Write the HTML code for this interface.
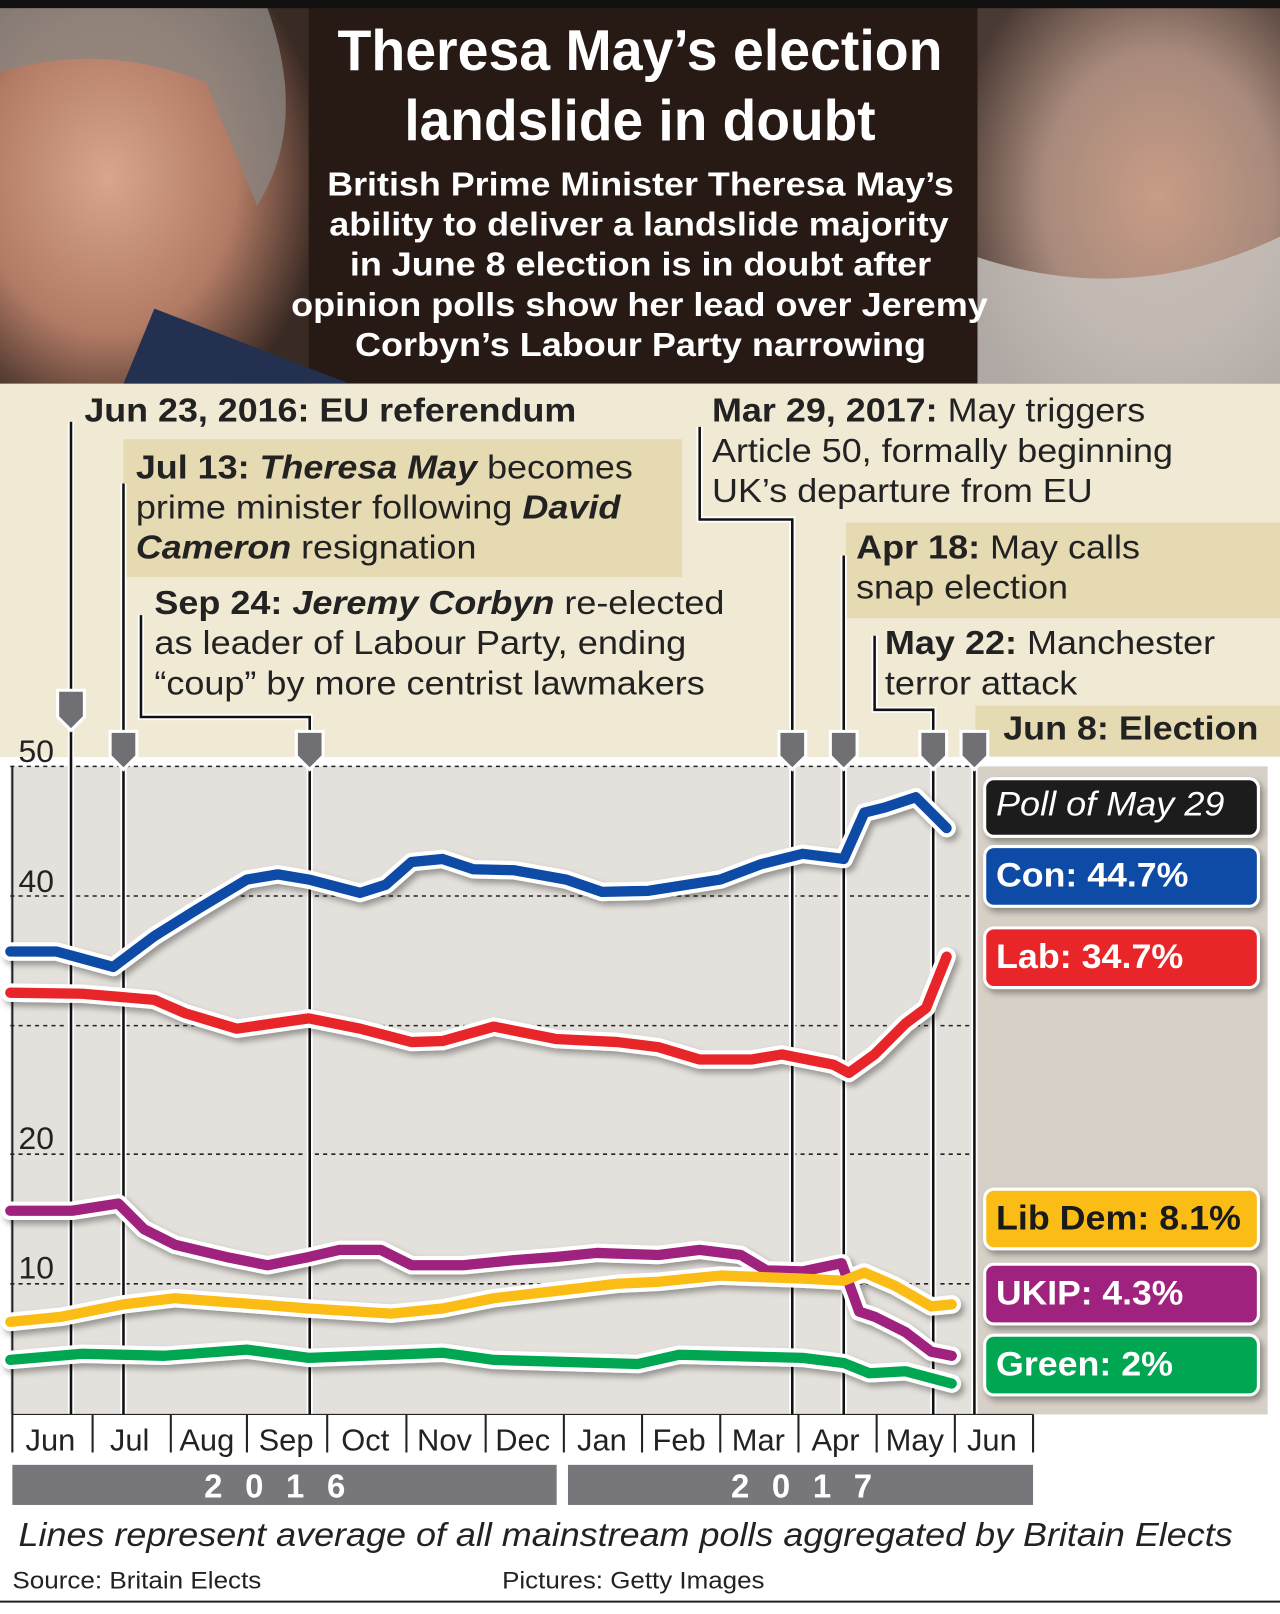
<!DOCTYPE html>
<html><head><meta charset="utf-8"><style>
html,body{margin:0;padding:0;background:#fff}
svg{display:block}
text{font-family:"Liberation Sans",sans-serif}
</style></head><body>
<svg width="1280" height="1614" viewBox="0 0 1244 1569" preserveAspectRatio="none" xmlns="http://www.w3.org/2000/svg">
<defs>
<radialGradient id="lf" cx="0.35" cy="0.45" r="0.7"><stop offset="0" stop-color="#d9a58c"/><stop offset="0.6" stop-color="#b07a64"/><stop offset="1" stop-color="#3a2a24"/></radialGradient>
<radialGradient id="rf" cx="0.6" cy="0.5" r="0.7"><stop offset="0" stop-color="#c99c86"/><stop offset="0.55" stop-color="#a88a7c"/><stop offset="1" stop-color="#4a3a34"/></radialGradient>
<filter id="sh"><feDropShadow dx="3" dy="4" stdDeviation="3" flood-opacity="0.35"/></filter>
</defs>
<rect x="0" y="0" width="1244" height="373" fill="#271a15"/>
<rect x="0" y="0" width="1244" height="8" fill="#111"/>
<rect x="0" y="8" width="300" height="365" fill="url(#lf)"/>
<path d="M0 8 L260 8 Q300 120 250 200 L200 80 Q100 40 0 70Z" fill="#8a8580" opacity="0.8"/>
<path d="M150 300 L340 373 L120 373Z" fill="#233050"/>
<rect x="950" y="8" width="294" height="365" fill="url(#rf)"/>
<path d="M950 250 Q1100 300 1244 230 L1244 373 L950 373Z" fill="#c8c4c0" opacity="0.8"/>
<g fill="#fff" font-size="56" font-weight="bold">
<text x="328" y="68" textLength="588" lengthAdjust="spacingAndGlyphs">Theresa May’s election</text>
<text x="393" y="136" textLength="458" lengthAdjust="spacingAndGlyphs">landslide in doubt</text>
</g>
<g fill="#fff" font-size="32" font-weight="bold">
<text x="318" y="190" textLength="609" lengthAdjust="spacingAndGlyphs">British Prime Minister Theresa May’s</text>
<text x="320" y="229" textLength="602" lengthAdjust="spacingAndGlyphs">ability to deliver a landslide majority</text>
<text x="340" y="268" textLength="565" lengthAdjust="spacingAndGlyphs">in June 8 election is in doubt after</text>
<text x="283" y="307" textLength="677" lengthAdjust="spacingAndGlyphs">opinion polls show her lead over Jeremy</text>
<text x="345" y="346" textLength="555" lengthAdjust="spacingAndGlyphs">Corbyn’s Labour Party narrowing</text>
</g>
<rect x="0" y="373" width="1244" height="363" fill="#f0e9d4"/>
<rect x="120" y="427" width="543" height="134" fill="#e6dab3"/>
<rect x="822" y="508" width="422" height="93" fill="#e6dab3"/>
<rect x="948" y="686" width="296" height="49" fill="#e6dab3"/>
<rect x="10" y="745" width="935" height="630" fill="#e4e1dc"/>
<rect x="950" y="745" width="282" height="630" fill="#d6d0c7"/>
<g stroke="#222" stroke-width="1.5" stroke-dasharray="4 4">
<line x1="10" y1="745" x2="945" y2="745"/><line x1="10" y1="871" x2="945" y2="871"/>
<line x1="10" y1="997" x2="945" y2="997"/><line x1="10" y1="1122" x2="945" y2="1122"/>
<line x1="10" y1="1248" x2="945" y2="1248"/>
</g>
<line x1="12" y1="745" x2="12" y2="1375" stroke="#222" stroke-width="2"/>
<g font-size="31" fill="#222"><text x="18" y="741">50</text><text x="18" y="867">40</text><text x="18" y="1117">20</text><text x="18" y="1243">10</text></g>
<g fill="none" stroke="#fff" stroke-width="6">
<path d="M69 410 V1375"/><path d="M120 470 V1375"/><path d="M137 598 V697 H301 V1375"/>
<path d="M680 415 V505 H770 V1375"/><path d="M820 540 V1375"/><path d="M850 618 V690 H907 V1375"/><path d="M947 715 V1375"/>
</g>
<g fill="none" stroke="#111" stroke-width="2.5">
<path d="M69 410 V1375"/><path d="M120 470 V1375"/><path d="M137 598 V697 H301 V1375"/>
<path d="M680 415 V505 H770 V1375"/><path d="M820 540 V1375"/><path d="M850 618 V690 H907 V1375"/><path d="M947 715 V1375"/>
</g>
<g fill="#707074" stroke="#fff" stroke-width="3">
<path d="M56 671 H82 V697 L69 710 L56 697Z"/>
<path d="M107 711 H133 V735 L120 748 L107 735Z"/>
<path d="M288 711 H314 V735 L301 748 L288 735Z"/>
<path d="M757 711 H783 V735 L770 748 L757 735Z"/>
<path d="M807 711 H833 V735 L820 748 L807 735Z"/>
<path d="M894 711 H920 V735 L907 748 L894 735Z"/>
<path d="M934 711 H960 V735 L947 748 L934 735Z"/>
</g>
<g font-size="32" fill="#222">
<text x="82" y="410" textLength="478" lengthAdjust="spacingAndGlyphs" font-weight="bold">Jun 23, 2016: EU referendum</text>
<text x="132" y="465" textLength="483" lengthAdjust="spacingAndGlyphs"><tspan font-weight="bold">Jul 13: </tspan><tspan font-weight="bold" font-style="italic">Theresa May</tspan> becomes</text>
<text x="132" y="504" textLength="471" lengthAdjust="spacingAndGlyphs">prime minister following <tspan font-weight="bold" font-style="italic">David</tspan></text>
<text x="132" y="543" textLength="331" lengthAdjust="spacingAndGlyphs"><tspan font-weight="bold" font-style="italic">Cameron</tspan> resignation</text>
<text x="150" y="597" textLength="554" lengthAdjust="spacingAndGlyphs"><tspan font-weight="bold">Sep 24: </tspan><tspan font-weight="bold" font-style="italic">Jeremy Corbyn</tspan> re-elected</text>
<text x="150" y="636" textLength="517" lengthAdjust="spacingAndGlyphs">as leader of Labour Party, ending</text>
<text x="150" y="675" textLength="535" lengthAdjust="spacingAndGlyphs">“coup” by more centrist lawmakers</text>
<text x="692" y="410" textLength="421" lengthAdjust="spacingAndGlyphs"><tspan font-weight="bold">Mar 29, 2017:</tspan> May triggers</text>
<text x="692" y="449" textLength="448" lengthAdjust="spacingAndGlyphs">Article 50, formally beginning</text>
<text x="692" y="488" textLength="370" lengthAdjust="spacingAndGlyphs">UK’s departure from EU</text>
<text x="832" y="543" textLength="276" lengthAdjust="spacingAndGlyphs"><tspan font-weight="bold">Apr 18:</tspan> May calls</text>
<text x="832" y="582" textLength="206" lengthAdjust="spacingAndGlyphs">snap election</text>
<text x="860" y="636" textLength="321" lengthAdjust="spacingAndGlyphs"><tspan font-weight="bold">May 22:</tspan> Manchester</text>
<text x="860" y="675" textLength="187" lengthAdjust="spacingAndGlyphs">terror attack</text>
<text x="975" y="719" font-weight="bold" textLength="248" lengthAdjust="spacingAndGlyphs">Jun 8: Election</text>
</g>
<g fill="none" stroke-linecap="round" stroke-linejoin="round" filter="url(#sh)">
<g stroke="#fff" stroke-width="18">
<polyline points="10,925 55,925 110,940 150,910 190,885 240,855 270,850 300,855 350,868 375,860 400,838 430,835 460,845 500,846 550,855 585,867 630,866 700,855 740,840 780,830 820,835 840,790 860,785 890,775 905,790 920,805"/>
<polyline points="10,965 80,966 150,972 180,985 230,1000 300,990 350,1000 400,1013 430,1012 480,998 540,1010 600,1013 640,1018 680,1030 730,1030 760,1025 810,1035 825,1043 850,1025 880,995 900,980 920,930"/>
<polyline points="10,1177 70,1177 115,1170 140,1195 170,1210 220,1222 260,1230 300,1222 330,1215 370,1215 400,1230 450,1230 500,1225 540,1222 580,1218 640,1220 680,1215 720,1220 745,1235 780,1236 818,1228 835,1275 850,1280 880,1295 905,1314 925,1318"/>
<polyline points="10,1285 60,1280 120,1268 170,1262 250,1268 300,1272 380,1277 430,1272 480,1262 540,1255 600,1248 640,1246 700,1240 780,1243 820,1245 840,1237 870,1250 905,1270 925,1268"/>
<polyline points="10,1322 80,1316 160,1318 240,1312 300,1320 430,1315 480,1322 620,1326 660,1317 780,1320 820,1325 845,1335 880,1333 925,1345"/>
</g>
<polyline stroke="#0d4ba6" stroke-width="10" points="10,925 55,925 110,940 150,910 190,885 240,855 270,850 300,855 350,868 375,860 400,838 430,835 460,845 500,846 550,855 585,867 630,866 700,855 740,840 780,830 820,835 840,790 860,785 890,775 905,790 920,805"/>
<polyline stroke="#e8262b" stroke-width="10" points="10,965 80,966 150,972 180,985 230,1000 300,990 350,1000 400,1013 430,1012 480,998 540,1010 600,1013 640,1018 680,1030 730,1030 760,1025 810,1035 825,1043 850,1025 880,995 900,980 920,930"/>
<polyline stroke="#a0237f" stroke-width="10" points="10,1177 70,1177 115,1170 140,1195 170,1210 220,1222 260,1230 300,1222 330,1215 370,1215 400,1230 450,1230 500,1225 540,1222 580,1218 640,1220 680,1215 720,1220 745,1235 780,1236 818,1228 835,1275 850,1280 880,1295 905,1314 925,1318"/>
<polyline stroke="#fbbc18" stroke-width="10" points="10,1285 60,1280 120,1268 170,1262 250,1268 300,1272 380,1277 430,1272 480,1262 540,1255 600,1248 640,1246 700,1240 780,1243 820,1245 840,1237 870,1250 905,1270 925,1268"/>
<polyline stroke="#05a651" stroke-width="10" points="10,1322 80,1316 160,1318 240,1312 300,1320 430,1315 480,1322 620,1326 660,1317 780,1320 820,1325 845,1335 880,1333 925,1345"/>
</g>
<g stroke="#fff" stroke-width="3" filter="url(#sh)">
<rect x="957" y="757" width="266" height="56" rx="9" fill="#1e1a1a"/>
<rect x="957" y="823" width="266" height="58" rx="9" fill="#0d4ba6"/>
<rect x="957" y="902" width="266" height="58" rx="9" fill="#e8262b"/>
<rect x="957" y="1156" width="266" height="58" rx="9" fill="#fbbc18"/>
<rect x="957" y="1229" width="266" height="58" rx="9" fill="#a0237f"/>
<rect x="957" y="1298" width="266" height="58" rx="9" fill="#05a651"/>
</g>
<g font-size="33" fill="#fff" font-weight="bold">
<text x="968" y="793" font-weight="normal" font-style="italic" textLength="222" lengthAdjust="spacingAndGlyphs">Poll of May 29</text>
<text x="968" y="862" textLength="187" lengthAdjust="spacingAndGlyphs">Con: 44.7%</text>
<text x="968" y="941" textLength="182" lengthAdjust="spacingAndGlyphs">Lab: 34.7%</text>
<text x="968" y="1195" fill="#1a1a1a" textLength="238" lengthAdjust="spacingAndGlyphs">Lib Dem: 8.1%</text>
<text x="968" y="1268" textLength="182" lengthAdjust="spacingAndGlyphs">UKIP: 4.3%</text>
<text x="968" y="1337" textLength="172" lengthAdjust="spacingAndGlyphs">Green: 2%</text>
</g>
<g stroke="#222" stroke-width="2">
<line x1="12" y1="1375" x2="1004" y2="1375" stroke-width="1"/>
<line x1="12" y1="1375" x2="12" y2="1412"/><line x1="90" y1="1375" x2="90" y2="1412"/><line x1="166" y1="1375" x2="166" y2="1412"/><line x1="240" y1="1375" x2="240" y2="1412"/><line x1="318" y1="1375" x2="318" y2="1412"/><line x1="395" y1="1375" x2="395" y2="1412"/><line x1="472" y1="1375" x2="472" y2="1412"/><line x1="548" y1="1375" x2="548" y2="1412"/><line x1="624" y1="1375" x2="624" y2="1412"/><line x1="700" y1="1375" x2="700" y2="1412"/><line x1="776" y1="1375" x2="776" y2="1412"/><line x1="852" y1="1375" x2="852" y2="1412"/><line x1="928" y1="1375" x2="928" y2="1412"/><line x1="1004" y1="1375" x2="1004" y2="1412"/>
</g>
<g font-size="30" fill="#222" text-anchor="middle">
<text x="49" y="1410">Jun</text><text x="126" y="1410">Jul</text><text x="201" y="1410">Aug</text><text x="278" y="1410">Sep</text><text x="355" y="1410">Oct</text><text x="432" y="1410">Nov</text><text x="508" y="1410">Dec</text><text x="585" y="1410">Jan</text><text x="660" y="1410">Feb</text><text x="737" y="1410">Mar</text><text x="812" y="1410">Apr</text><text x="889" y="1410">May</text><text x="964" y="1410">Jun</text>
</g>
<rect x="12" y="1424" width="529" height="39" fill="#77777b"/>
<rect x="552" y="1424" width="452" height="39" fill="#77777b"/>
<g font-size="32" font-weight="bold" fill="#fff" text-anchor="middle">
<text x="278" y="1456" letter-spacing="22">2016</text>
<text x="790" y="1456" letter-spacing="22">2017</text>
</g>
<text x="18" y="1503" font-size="32" font-style="italic" fill="#222" textLength="1180" lengthAdjust="spacingAndGlyphs">Lines represent average of all mainstream polls aggregated by Britain Elects</text>
<text x="12" y="1544" font-size="23" fill="#222" textLength="242" lengthAdjust="spacingAndGlyphs">Source: Britain Elects</text>
<text x="488" y="1544" font-size="23" fill="#222" textLength="255" lengthAdjust="spacingAndGlyphs">Pictures: Getty Images</text>
<line x1="0" y1="1557" x2="1244" y2="1557" stroke="#222" stroke-width="2"/>
</svg>
</body></html>
